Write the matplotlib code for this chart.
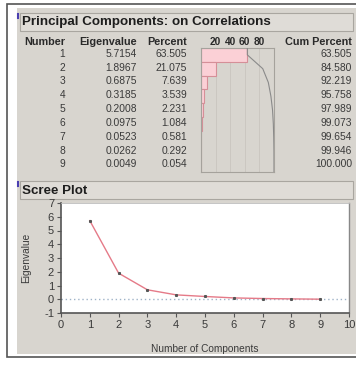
import matplotlib
matplotlib.use("Agg")
import matplotlib.pyplot as plt
from matplotlib.patches import Rectangle

plt.rcParams['font.family'] = ['Liberation Sans', 'DejaVu Sans']

# table values
numbers = [1, 2, 3, 4, 5, 6, 7, 8, 9]
eigenvalues = [5.7154, 1.8967, 0.6875, 0.3185, 0.2008, 0.0975, 0.0523, 0.0262, 0.0049]
percents = [63.505, 21.075, 7.639, 3.539, 2.231, 1.084, 0.581, 0.292, 0.054]
cum_percents = [63.505, 84.580, 92.219, 95.758, 97.989, 99.073, 99.654, 99.946, 100.000]
col_headers = ["Number", "Eigenvalue", "Percent", "Cum Percent"]
bar_ticks = [20, 40, 60, 80]
x_ticks = list(range(0, 11))
y_ticks = list(range(-1, 8))

W, H = 356, 365
PANEL = '#d8d5cf'
TXT = '#3a3a3a'

fig = plt.figure(figsize=(W / 100, H / 100), dpi=100)
fig.patch.set_facecolor('white')

# background layer in pixel coords (y down)
bg = fig.add_axes([0, 0, 1, 1])
bg.set_xlim(0, W)
bg.set_ylim(H, 0)
bg.axis('off')

bg.add_patch(Rectangle((7, 4), 360, 353, facecolor='white', edgecolor='#555555', lw=1.2))
bg.add_patch(Rectangle((17, 8), 350, 346, facecolor=PANEL, edgecolor='none'))

# section title bars
for y0, label in [(13, "Principal Components: on Correlations"), (181, "Scree Plot")]:
    bg.add_patch(Rectangle((20, y0), 333, 18, facecolor='#dfdcd7', edgecolor='#a9a6a0', lw=0.8))
    bg.text(22, y0 + 9.5, label, fontsize=9.6, fontweight='bold', color='#1e1e1e', va='center', ha='left')
    bg.plot([17.5, 17.5], [y0 + 1, y0 + 5], color='#4a3fb0', lw=1.5)

# table
row_top, row_h = 48, 13.8
hdr_x = [65, 137, 187, 352]
for cx, name in zip(hdr_x, col_headers):
    bg.text(cx, 42, name, ha='right', va='center', fontsize=7.8, fontweight='bold', color='#2a2a2a')
for i in range(len(numbers)):
    yc = row_top + (i + 0.5) * row_h - 1
    bg.text(hdr_x[0], yc, str(numbers[i]), ha='right', va='center', fontsize=7.4, color=TXT)
    bg.text(hdr_x[1], yc, f"{eigenvalues[i]:.4f}", ha='right', va='center', fontsize=7.4, color=TXT)
    bg.text(hdr_x[2], yc, f"{percents[i]:.3f}", ha='right', va='center', fontsize=7.4, color=TXT)
    bg.text(hdr_x[3], yc, f"{cum_percents[i]:.3f}", ha='right', va='center', fontsize=7.4, color=TXT)

# percent bar chart
bx0, bx1, by0, by1 = 201, 274, 48, 172
axb = fig.add_axes([bx0 / W, (H - by1) / H, (bx1 - bx0) / W, (by1 - by0) / H])
axb.set_facecolor(PANEL)
axb.set_xlim(0, 100)
axb.set_ylim(len(numbers), 0)
for v in bar_ticks:
    axb.axvline(v, color='#c9c5bf', lw=0.6, zorder=0)
rows = [i + 0.5 for i in range(len(numbers))]
axb.barh(rows, percents, height=1.0, color='#fbd0d6', edgecolor='#d58f98', lw=0.8, zorder=2)
axb.plot([cum_percents[0]] + cum_percents + [cum_percents[-1]],
         [0] + rows + [len(numbers)], color='#8a8a8a', lw=0.8, zorder=3)
axb.set_xticks(bar_ticks)
axb.set_xticklabels([str(v) for v in bar_ticks], fontsize=7.3, fontweight='bold', color='#2a2a2a')
axb.xaxis.tick_top()
axb.tick_params(axis='x', length=0, pad=1)
axb.set_yticks([])
for s in axb.spines.values():
    s.set_color('#a5a29c')
    s.set_linewidth(0.8)

# scree plot
sx0, sx1, sy0, sy1 = 61, 349, 203, 313
axs = fig.add_axes([sx0 / W, (H - sy1) / H, (sx1 - sx0) / W, (sy1 - sy0) / H])
axs.set_facecolor('white')
axs.set_xlim(0, 10)
axs.set_ylim(-1, 7)
axs.axhline(0, color='#9fb3c8', lw=1.0, ls=(0, (1, 2)), zorder=1)
axs.plot(numbers, eigenvalues, color='#e57a88', lw=1.0, zorder=2)
axs.plot(numbers, eigenvalues, ls='none', marker='s', ms=1.2, color='#555555', zorder=3)
axs.set_xticks(x_ticks)
axs.set_yticks(y_ticks)
axs.set_xticklabels([str(v) for v in x_ticks], fontsize=8, color=TXT)
axs.set_yticklabels([str(v) for v in y_ticks], fontsize=8, color=TXT)
axs.tick_params(length=3, width=0.8, color='#555555', pad=2)
axs.spines['left'].set_color('#555555')
axs.spines['bottom'].set_color('#555555')
axs.spines['left'].set_linewidth(1.2)
axs.spines['bottom'].set_linewidth(1.2)
axs.spines['top'].set_color('#bbbbbb')
axs.spines['right'].set_color('#888888')
axs.spines['top'].set_linewidth(0.6)
axs.spines['right'].set_linewidth(1.0)
axs.set_xlabel("Number of Components", fontsize=7.3, color=TXT, labelpad=10)
axs.set_ylabel("Eigenvalue", fontsize=7.3, color=TXT, labelpad=9)

fig.savefig("out.png", dpi=100, facecolor=fig.get_facecolor())
